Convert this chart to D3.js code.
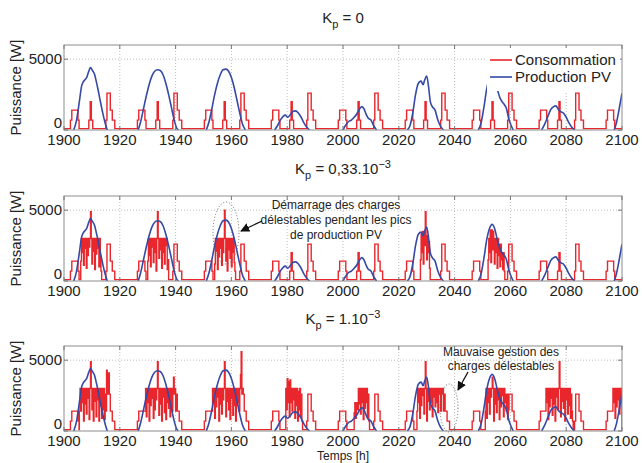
<!DOCTYPE html>
<html><head><meta charset="utf-8">
<script src="https://cdn.jsdelivr.net/npm/d3@7/dist/d3.min.js"></script>
<style>
body{margin:0;background:#fff}
svg{display:block}
text{font-family:"Liberation Sans",Arial,sans-serif;fill:#222}
</style>
</head><body>
<svg id="chart" width="642" height="463"></svg>
<script>
// ---------------- DATA ----------------
const xTicks = [1900,1920,1940,1960,1980,2000,2020,2040,2060,2080,2100];
const yTicks = [0,5000];
const dayStarts = [1900,1924,1948,1972,1996,2020,2044,2068,2092];
// base daily load profile: [hour offset in day, W] (step after)
const baseProfile = [[0,100],[2.3,700],[2.8,1400],[5.0,700],[5.4,100],
  [8.9,700],[9.4,2000],[9.8,700],[10.3,100],
  [15.0,700],[15.4,2600],[16.6,1400],[17.3,700],[18.2,100]];

// PV production (W) per day: [hour, W]
const pvDay1 = [[1903.5,0],[1904.5,700],[1905.5,2000],[1906.3,3100],[1906.9,3400],[1907.5,3550],[1908.1,3700],[1908.8,4100],[1909.5,4400],[1910.2,4200],[1911,3900],[1911.6,3400],[1912.2,2860],[1912.8,2250],[1913.4,1660],[1914,1100],[1914.6,600],[1915.5,0]];
const pvDay2 = [[1926.6,0],[1927.5,600],[1928.5,1500],[1929.5,2400],[1930.5,3200],[1931.5,3800],[1932.5,4150],[1933.5,4250],[1934.5,4200],[1935.5,3900],[1936.5,3300],[1937.5,2500],[1938.5,1600],[1939.5,700],[1940.5,100],[1941,0]];
const pvDay3 = [[1951,0],[1952,600],[1953,1500],[1954,2500],[1955,3300],[1956,3900],[1957,4250],[1958,4300],[1959,4150],[1960,3700],[1961,3000],[1962,2100],[1963,1200],[1964,400],[1965,0]];
const pvDay4 = [[1975.5,0],[1976.5,300],[1977.5,700],[1978.5,950],[1979.3,1050],[1980.2,900],[1981,1050],[1982,1300],[1983,1350],[1984,1200],[1985,900],[1986,500],[1987,200],[1988,0]];
const pvDay5 = [[2000,0],[2001,350],[2002,600],[2003,700],[2004,900],[2005,1150],[2006,1500],[2006.8,1650],[2007.5,1500],[2008.3,1100],[2009,850],[2010,700],[2011,300],[2012,0]];
const pvDay6 = [[2023,0],[2024,300],[2025,1200],[2026,2500],[2027,3300],[2028,3450],[2028.7,3200],[2029.3,3550],[2030,3800],[2030.7,3000],[2031.3,2000],[2032,1650],[2033,1400],[2034,700],[2035,250],[2036,0]];
const pvDay7 = [[2048.5,0],[2049.5,500],[2050.5,1600],[2051.5,2900],[2052.5,3700],[2053.5,4000],[2054.5,3600],[2055.3,2900],[2056.2,2300],[2057,2000],[2057.8,1800],[2058.6,1500],[2059.4,800],[2060.3,300],[2061,0]];
const pvDay8 = [[2071.2,0],[2072.5,500],[2073.5,1000],[2074.5,1450],[2075.5,1650],[2076.3,1700],[2077.2,1450],[2078,1300],[2079,1200],[2080,900],[2081,500],[2082,200],[2083,0]];
const pvDay9 = [[2097.2,0],[2098,500],[2099,1500],[2100,2600]];
const pvDays = [pvDay1,pvDay2,pvDay3,pvDay4,pvDay5,pvDay6,pvDay7,pvDay8,pvDay9];

// shed-able load bursts (total consumption W, 0.25 h steps)
const bursts2 = [
 {start:1906.0, dt:0.25, values:[1400,3000,2000,3000,1100,3000,2300,3000,900,3000,1800,3000,2400,3000,4900,3000,1200,3000,2100,3000,800,3000,1900,3000,2300,3000,1000,3000,1500,700]},
 {start:1930.0, dt:0.25, values:[1400,3000,1800,3000,1000,3000,2400,3000,1300,3000,2000,3000,700,3000,4900,3000,1600,3000,2200,3000,900,3000,2000,3000,1200,3000,2500,3000,800,1500]},
 {start:1954.0, dt:0.25, values:[1200,3000,2100,3000,800,3000,1700,3000,2300,3000,1100,3000,2000,3000,5000,3000,1400,3000,700,3000,2200,3000,1600,3000,1000,3000,2000,3000,1300,700]},
 {start:2027.75, dt:0.25, values:[1500,3300,2000,3500,1200,3500,2500,4900,3000,1500,3200,2000,2800,900]},
 {start:2052.0, dt:0.25, values:[1500,3000,2000,3600,1300,3600,2200,3500,3000,1200,3000,2000,3000,900,3000,1800,2600,1000,2600,1500,2000,800,2000,700]}
];
const bursts3 = [
 {start:1905.5, dt:0.25, values:[1400,3000,1400,3000,2000,3000,700,3000,1900,3000,1200,3000,2300,3000,800,3000,4900,3000,1500,3000,700,3000,2100,3000,1000,3000,2200,3000,700,3000,1800,3000,900,3000,1500,3000,800,2600,1400,4300,2600,3000,4100,2600]},
 {start:1929.0, dt:0.25, values:[1400,3000,1000,3000,2000,3000,700,3000,1800,3000,2300,3000,900,3000,1500,3000,2200,3000,4900,3000,1100,3000,1900,3000,700,3000,2400,3000,1300,3000,800,3000,2000,3000,1600,3000,1000,3000,2600,1400,3000,3800,2600,3000,1400,2600]},
 {start:1953.0, dt:0.25, values:[1400,3000,2000,3000,900,3000,1700,3000,2400,3000,700,3000,1900,3000,1200,3000,2200,3000,4900,3000,1000,3000,2100,3000,1500,3000,800,3000,2300,3000,1100,3000,1800,3000,700,3000,2000,3000,2600,1400,3000,4000,5600,2600,3000,2600]},
 {start:1979.5, dt:0.25, values:[3000,1500,3700,2000,3500,1000,3600,2000,3000,1400,3000,2200,3000,900,3000,1800,3000,700,2800,1500,3000,1000,2600,700]},
 {start:2004.0, dt:0.25, values:[1300,2000,900,1900,2000,1500,3000,1900,3000,1200,3000,2000,3000,800,3000,1600,3000,2000,3000,1000,2600,700]},
 {start:2026.5, dt:0.25, values:[1400,3000,2000,3000,900,3000,1800,3000,2500,3000,1200,3000,4900,3000,700,3000,2100,3000,1500,3000,2000,3000,1000,3000,2400,3000,1700,3000,2000,3000,1300,3000,2600,3000,1400,3000,2600,3000,1400,2600]},
 {start:2051.0, dt:0.25, values:[1400,3000,900,3000,2000,3000,1200,3000,2400,3000,3800,3000,700,3000,1900,3000,1300,3000,2200,3000,800,3000,1700,3000,2500,3000,1000,3000,2000,2600,1400,2600,800,1500]},
 {start:2072.5, dt:0.25, values:[1400,3000,2000,3000,800,3000,1700,3000,2300,3000,1100,3000,1900,3000,700,3000,2400,3000,1500,3000,4900,3000,1000,3000,2100,3000,1600,3000,700,3000,2200,3000,1200,3000,1800,3000,900,2600,1400,700]},
 {start:2096.5, dt:0.25, values:[1400,3000,2000,3000,900,3000,1700,3000,2200,3000,1200,3000,2000,3000]}
];
const bursts1 = [];

// ---------------- BUILD ----------------
function baseAt(t){
  const ds = dayStarts.filter(s => s <= t + 1e-9);
  if (!ds.length) return baseProfile[0][1];
  const off = t - ds[ds.length-1];
  let v = baseProfile[0][1];
  for (const [o,val] of baseProfile) if (o <= off + 1e-9) v = val;
  return v;
}
function valueAt(t, bursts){
  for (const b of bursts){
    const end = b.start + b.values.length*b.dt;
    if (t >= b.start - 1e-9 && t < end - 1e-9) return b.values[Math.floor((t-b.start)/b.dt + 1e-6)];
  }
  return baseAt(t);
}
function buildCons(bursts){
  const set = new Set([1900,2100]);
  dayStarts.forEach(d => baseProfile.forEach(([o]) => { const t=d+o; if(t>=1900&&t<=2100) set.add(+t.toFixed(4)); }));
  bursts.forEach(b => { for(let i=0;i<=b.values.length;i++){ const t=b.start+i*b.dt; if(t<=2100) set.add(+t.toFixed(4)); } });
  const ts = [...set].sort((a,b)=>a-b);
  return ts.map(t => [t, valueAt(t, bursts)]);
}

const svg = d3.select('#chart');
const left = 64, right = 622, ph = 85;
const x = d3.scaleLinear().domain([1900,2100]).range([left,right]);
const RED = '#e8262b', BLUE = '#3549a6';

const panels = [
  {top:45, bursts:bursts1, title:[['K',0,15],['p',5,11],[' = 0',-5,15]]},
  {top:196, bursts:bursts2, title:[['K',0,15],['p',5,11],[' = 0,33.10',-5,15],['\u22123',-6,11]]},
  {top:346, bursts:bursts3, title:[['K',0,15],['p',5,11],[' = 1.10',-5,15],['\u22123',-6,11]]}
];

panels.forEach((p,pi) => {
  const bottom = p.top + ph;
  const y = d3.scaleLinear().domain([0,6000]).range([bottom,p.top]);
  const g = svg.append('g');
  const cid = 'clip'+pi;
  svg.append('clipPath').attr('id',cid).append('rect')
    .attr('x',left).attr('y',p.top).attr('width',right-left).attr('height',ph);

  // grid
  g.selectAll('.gx').data(xTicks.slice(1,-1)).join('line')
    .attr('x1',d=>x(d)).attr('x2',d=>x(d)).attr('y1',p.top).attr('y2',bottom)
    .attr('stroke','#bdbdbd').attr('stroke-width',1).attr('stroke-dasharray','1,2');
  g.selectAll('.gy').data(yTicks.filter(v=>v>0)).join('line')
    .attr('x1',left).attr('x2',right).attr('y1',d=>y(d)).attr('y2',d=>y(d))
    .attr('stroke','#bdbdbd').attr('stroke-width',1).attr('stroke-dasharray','1,2');

  const plot = g.append('g').attr('clip-path',`url(#${cid})`);
  const cons = buildCons(p.bursts);
  plot.append('path').datum(cons)
    .attr('d', d3.line().x(d=>x(d[0])).y(d=>y(d[1])).curve(d3.curveStepAfter))
    .attr('fill','none').attr('stroke',RED).attr('stroke-width',1.4);
  const pvLine = d3.line().x(d=>x(d[0])).y(d=>y(d[1])).curve(d3.curveMonotoneX);
  plot.selectAll('.pv').data(pvDays).join('path')
    .attr('d', pvLine).attr('fill','none').attr('stroke',BLUE).attr('stroke-width',1.6);

  // box
  g.append('rect').attr('x',left).attr('y',p.top).attr('width',right-left).attr('height',ph)
    .attr('fill','none').attr('stroke','#8c8c8c').attr('stroke-width',1);
  // ticks
  xTicks.forEach(t => {
    g.append('line').attr('x1',x(t)).attr('x2',x(t)).attr('y1',bottom).attr('y2',bottom-4).attr('stroke','#777');
    g.append('line').attr('x1',x(t)).attr('x2',x(t)).attr('y1',p.top).attr('y2',p.top+4).attr('stroke','#777');
  });
  yTicks.forEach(v => {
    g.append('line').attr('x1',left).attr('x2',left+4).attr('y1',y(v)).attr('y2',y(v)).attr('stroke','#777');
    g.append('line').attr('x1',right).attr('x2',right-4).attr('y1',y(v)).attr('y2',y(v)).attr('stroke','#777');
  });
  // tick labels
  g.selectAll('.xl').data(xTicks).join('text')
    .attr('x',d=>x(d)).attr('y',bottom+15).attr('text-anchor','middle')
    .style('font-size','15px').text(d=>d);
  g.selectAll('.yl').data(yTicks).join('text')
    .attr('x',left-2).attr('y',d=>y(d)+(d===0?-2:5)).attr('text-anchor','end')
    .style('font-size','15px').text(d=>d);
  // y label
  g.append('text').attr('transform',`translate(21,${(p.top+bottom)/2}) rotate(-90)`)
    .attr('text-anchor','middle').style('font-size','15px').text('Puissance [W]');
  // title
  const tt = g.append('text').attr('x',(left+right)/2).attr('y',p.top-22).attr('text-anchor','middle');
  p.title.forEach(([s,dy,fs]) => tt.append('tspan').attr('dy',dy).style('font-size',fs+'px').text(s));
});

// legend (panel 1)
const lg = svg.append('g');
lg.append('rect').attr('x',487).attr('y',48).attr('width',133).attr('height',43).attr('fill','#fff');
[['Consommation',RED,60],['Production PV',BLUE,77]].forEach(([lab,col,yy]) => {
  lg.append('line').attr('x1',490).attr('x2',512).attr('y1',yy).attr('y2',yy).attr('stroke',col).attr('stroke-width',1.6);
  lg.append('text').attr('x',515).attr('y',yy+5).style('font-size','15px').text(lab);
});

// x axis title
svg.append('text').attr('x',(left+right)/2).attr('y',460).attr('text-anchor','middle').style('font-size','12px').text('Temps [h]');

// annotations
const defs = svg.append('defs');
defs.append('marker').attr('id','arr').attr('viewBox','0 0 10 10').attr('refX',9).attr('refY',5)
  .attr('markerWidth',7).attr('markerHeight',7).attr('orient','auto')
  .append('path').attr('d','M0,0L10,5L0,10z').attr('fill','#111');

const ann2 = ['Démarrage des charges','délestables pendant les pics','de production PV'];
svg.selectAll('.a2').data(ann2).join('text').attr('x',336).attr('y',(d,i)=>209+i*15)
  .attr('text-anchor','middle').style('font-size','12px').text(d=>d);
svg.append('ellipse').attr('cx',226).attr('cy',233).attr('rx',13).attr('ry',31)
  .attr('fill','none').attr('stroke','#666').attr('stroke-dasharray','1,2');
svg.append('line').attr('x1',262).attr('y1',221).attr('x2',241).attr('y2',231)
  .attr('stroke','#111').attr('stroke-width',1.3).attr('marker-end','url(#arr)');

const ann3 = ['Mauvaise gestion des','charges délestables'];
svg.selectAll('.a3').data(ann3).join('text').attr('x',501).attr('y',(d,i)=>356+i*14)
  .attr('text-anchor','middle').style('font-size','12px').text(d=>d);
svg.append('ellipse').attr('cx',449).attr('cy',408).attr('rx',9).attr('ry',24)
  .attr('fill','none').attr('stroke','#666').attr('stroke-dasharray','1,2');
svg.append('line').attr('x1',468).attr('y1',372).attr('x2',458).attr('y2',390)
  .attr('stroke','#111').attr('stroke-width',1.3).attr('marker-end','url(#arr)');
</script>
</body></html>
